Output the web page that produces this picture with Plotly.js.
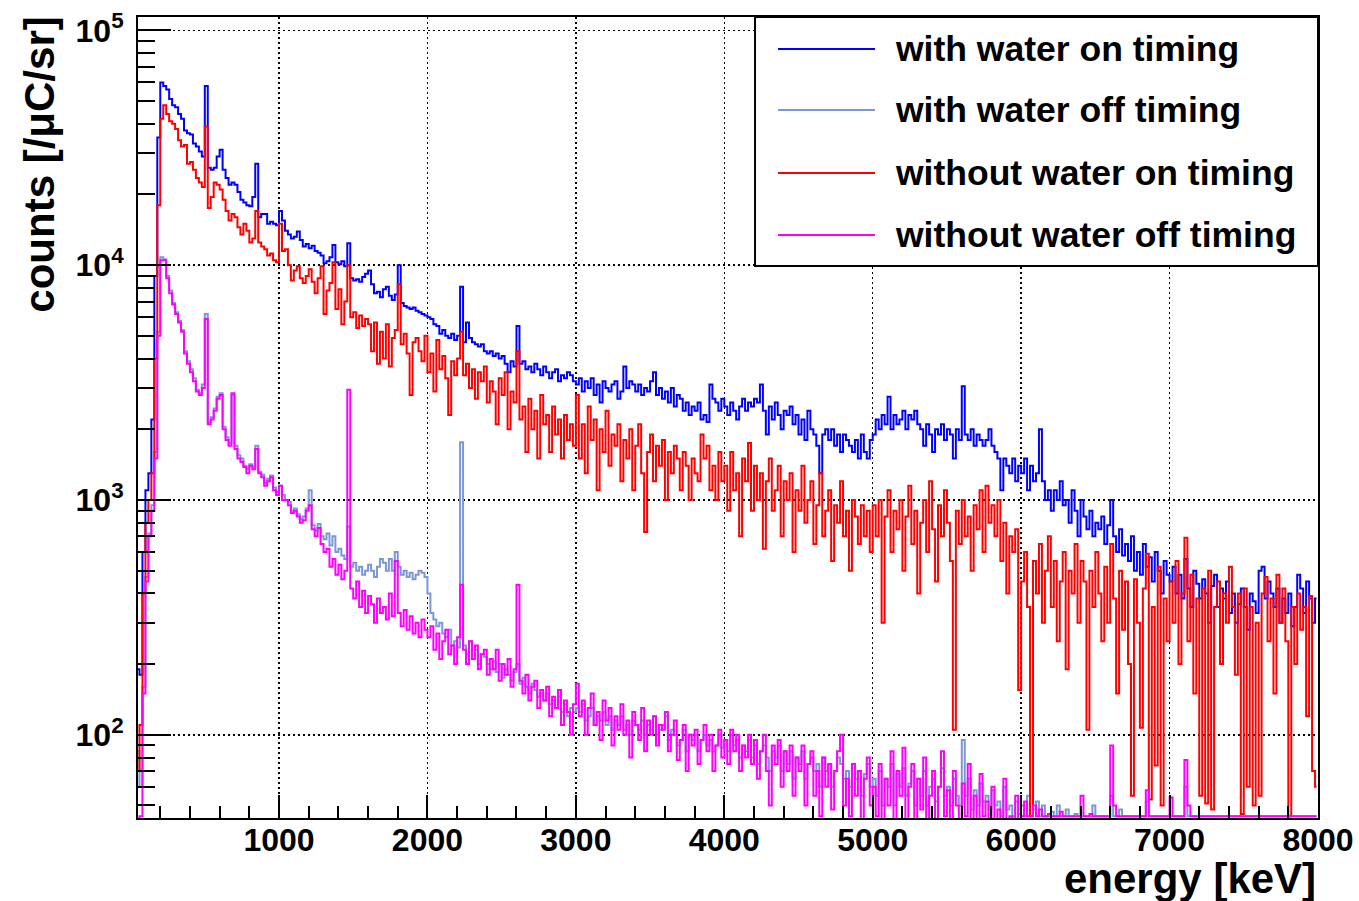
<!DOCTYPE html>
<html>
<head>
<meta charset="utf-8">
<script src="https://cdn.plot.ly/plotly-3.0.1.min.js"></script>
<style>
  html, body { margin: 0; padding: 0; background: #ffffff; }
  #chart { width: 1359px; height: 901px; }
</style>
</head>
<body>
<div id="chart"></div>
<script>
// Energy histograms: 20 keV bins starting at 40 keV (centres 50 ... 7990 keV).
const binLow = 40;
const binWidth = 20;

// counts per bin [/uC/sr], one row per 1000 keV (first row: 40-1000 keV)
const withWaterOn = [
  190,180,600,1100,1300,2200,9000,35000,60000,58000,56000,51000,48000,47000,44000,42000,37500,36500,36000,33000,32000,30500,29000,58000,26000,25500,26000,29000,31000,25500,23500,22000,22500,22000,20500,19000,18500,18000,17800,19500,27000,16000,16500,16500,15000,15300,15000,14800,
  17000,15500,14000,13500,13000,13200,13900,12800,12000,12300,11800,12100,11500,11300,11000,10200,10400,10800,12200,10300,10100,10400,9900,12400,8800,8600,8700,8500,8900,9200,9500,8300,7600,7700,7300,7900,8100,7400,7100,7500,10000,6900,6700,6600,6500,6600,6400,6300,6200,6100,
  6000,5900,5600,5500,5100,5300,5000,4900,5100,4800,5000,8100,4700,5700,4900,4700,4600,4500,4600,4300,4200,4300,4100,4200,4000,4100,3800,3500,3900,3700,5500,3800,3900,3600,3700,3500,3800,3600,3400,3700,3500,3300,3500,3600,3200,3400,3300,3500,3400,3200,
  3100,3300,2900,3200,3000,3300,2800,3100,2600,3200,3000,2900,3100,3200,2700,2900,3700,3000,3200,3100,2900,3100,2800,3000,2900,3200,3500,2800,3000,2700,2900,2600,3000,2500,2800,2700,2400,2600,2300,2500,2400,2600,2200,2300,2150,3100,2700,2600,2400,2700,
  2500,2300,2600,2400,2200,2500,2700,2400,2600,2500,2700,2600,3100,2400,1900,2500,2200,2600,2300,2000,2400,2300,2500,2100,2300,1900,2200,1800,2400,2000,1900,1700,1300,1900,2000,1800,2000,1700,1900,1600,1900,1800,1700,1600,1800,1500,1900,1600,1500,1800,
  1900,2200,2000,2300,2100,2750,2000,2300,2100,2200,2400,2000,2300,2200,2400,2100,2000,1700,2100,1900,1600,2000,1900,2100,1800,2000,1900,1500,2000,1800,3050,1900,1800,2000,1700,1900,1800,1700,1800,2000,1700,1600,1500,1100,1500,1400,1300,1500,1200,1400,
  1300,1500,1100,1400,1200,1300,2000,1200,1000,1100,900,1100,1000,1200,950,1000,800,1100,900,700,1000,850,750,900,700,800,750,850,650,780,1000,700,600,750,580,650,550,700,500,600,480,650,520,570,450,600,500,400,550,480,
  450,520,400,480,380,560,420,350,500,440,380,460,400,300,430,480,350,420,380,450,330,400,300,360,420,350,280,400,370,330,500,520,380,450,400,350,420,300,380,330,400,290,350,480,420,330,450,380,300,380
];

const withWaterOff = [
  85,60,160,470,720,950,1600,5200,10800,10600,9000,7800,6900,6300,5800,5300,4300,3900,3600,3300,2950,2850,3100,6200,2150,2250,2450,2750,2850,2050,1850,1750,2800,1700,1550,1500,1400,1350,1420,1380,1700,1320,1280,1180,1230,1270,1130,1080,
  1150,1050,1000,980,900,920,870,830,850,920,1100,780,740,790,700,680,720,640,700,600,620,580,560,770,520,540,500,520,480,500,530,500,470,520,560,540,500,560,500,600,520,480,500,470,490,460,480,500,490,470,
  400,330,310,290,300,270,260,280,240,250,235,1760,240,220,250,210,230,200,220,215,200,190,205,185,200,175,190,180,170,185,200,165,175,160,150,165,155,145,150,140,150,135,140,130,145,125,135,120,130,125,
  130,125,135,115,120,130,110,120,115,125,110,120,105,115,110,120,105,110,100,115,110,105,115,100,110,105,120,100,105,110,120,95,105,100,90,95,105,85,100,95,100,85,95,100,90,95,85,90,100,88,
  95,85,100,90,95,80,90,85,95,80,90,75,85,90,80,70,85,80,90,70,85,75,85,65,80,75,85,65,75,80,70,75,60,80,70,75,60,70,80,75,65,70,60,75,65,70,55,68,75,60,
  65,55,70,50,65,60,75,50,68,60,72,55,62,70,50,65,55,70,50,60,65,52,60,72,55,60,50,65,55,50,95,55,65,48,58,50,62,52,55,48,58,50,52,45,60,48,50,45,52,46,
  50,0,55,0,48,52,0,50,0,0,47,0,50,0,0,48,0,0,46,0,0,0,0,0,50,0,0,0,0,0,55,0,0,48,0,0,0,0,0,0,0,0,52,0,0,0,0,0,0,0,
  0,0,0,0,0,60,0,0,0,0,0,0,0,0,0,0,0,0,0,0,0,0,0,0,0,0,0,0,0,0,0,0,0,0,0,0,0,0,0,0,0,0,0,0,0,0,0,0,0,0
];

const withoutWaterOn = [
  70,110,400,800,1000,1300,4000,18000,42000,48000,44000,41000,40000,38000,34000,32000,32500,27000,27500,25500,23500,22500,21500,39000,17500,19500,22500,22000,21000,19000,17000,15500,16500,16000,14500,13500,15000,14000,12500,13000,17000,12500,12000,11700,11000,11200,10500,10300,
  15000,11500,11700,10000,8600,9500,9900,8800,8400,9000,9600,8500,7600,8800,9900,6200,7800,8400,10300,6500,7900,5600,7000,10000,6000,6300,5400,6100,5500,5900,5600,4300,5700,3800,5200,4000,5600,3700,4900,5300,8300,4600,5100,4200,2800,4700,4900,4300,3900,5000,
  3500,4200,2900,4800,3600,4100,3300,2300,3900,3400,4000,5200,3400,3800,3000,3600,2700,3500,3200,3700,2600,3200,2900,2100,3300,2800,3500,2000,2900,2600,4300,2200,2500,1600,2700,2000,2400,1500,2800,2100,2300,1600,2500,1900,2200,1500,2300,1800,2100,1700,
  2800,1500,2100,1300,2500,1800,2200,1100,2000,1600,2400,1400,1900,1700,2100,1200,1800,1500,2000,1100,1700,2100,1300,730,1600,1900,1200,1700,1400,1800,1000,1600,1300,1700,1500,1100,1600,1400,1000,1500,1300,1200,1900,1500,1700,1100,1400,1000,1600,1200,
  1400,900,1600,1100,1300,700,1500,1200,1750,900,1400,1000,1300,620,1200,1500,900,1100,1400,700,1200,1000,1300,600,1100,900,1400,800,1000,1200,650,950,1300,700,900,1100,550,950,800,1200,700,900,500,1000,850,650,950,700,900,600,
  950,700,1000,300,850,1100,600,900,750,1000,500,850,1150,650,900,400,800,1000,600,1200,750,450,950,700,1100,800,550,105,900,650,1000,700,850,500,950,750,1100,600,1150,800,950,700,1000,550,800,400,700,600,750,155,
  450,600,350,0,550,400,650,300,500,700,350,550,250,450,600,190,500,400,650,300,550,450,105,500,350,600,400,250,520,300,650,380,150,500,280,450,200,55,460,300,107,420,590,53,350,74,520,50,380,250,
  450,300,550,200,400,690,250,480,150,380,55,420,51,500,48,350,450,200,400,300,520,350,180,400,46,420,60,350,50,300,55,400,470,250,380,150,480,300,420,250,0,350,200,400,280,350,120,390,70,60
];

const withoutWaterOff = [
  40,45,150,450,700,900,1500,5000,10500,10500,8800,7600,6800,6200,5700,5200,4200,3800,3500,3200,2900,2800,3000,5900,2100,2200,2400,2700,2800,2000,1800,1700,2850,1650,1500,1450,1380,1300,1400,1350,1650,1300,1250,1150,1200,1250,1100,1050,
  1150,1000,1000,950,880,900,850,800,820,900,950,750,700,760,650,600,620,520,560,480,530,460,500,2950,420,380,450,350,410,330,390,360,300,380,330,350,310,400,320,550,330,290,340,280,320,270,300,260,310,280,
  260,290,230,270,210,250,280,220,240,200,260,435,230,200,250,210,240,190,220,230,180,210,190,230,170,200,180,210,160,190,435,170,150,180,140,160,170,130,155,140,160,120,145,130,155,110,140,125,100,135,
  165,120,140,100,130,150,110,125,95,140,115,130,90,120,105,135,100,115,80,125,110,95,130,85,115,100,120,90,110,105,125,85,100,115,78,95,110,70,100,90,105,75,95,110,85,100,70,90,105,80,
  95,75,105,85,100,70,90,80,100,75,95,65,85,100,70,50,90,75,95,60,85,70,90,55,80,70,90,50,75,85,55,70,45,80,60,75,48,70,85,100,50,65,45,75,55,70,40,65,80,50,
  60,45,75,40,65,50,85,40,70,55,88,42,60,75,40,65,48,80,40,55,70,42,60,85,45,58,40,70,50,40,62,45,75,40,55,40,68,45,52,40,60,40,48,40,65,40,45,40,55,40,
  0,52,0,0,50,0,48,0,0,46,0,0,0,47,0,0,0,0,0,0,55,0,0,46,0,0,0,0,45,0,90,50,0,0,0,0,0,0,0,0,0,0,58,0,0,0,0,0,0,0,
  54,0,0,0,0,78,50,0,0,0,0,0,0,0,0,0,0,0,0,0,0,0,0,0,0,0,0,0,0,0,0,0,0,0,0,0,0,0,0,0,0,0,0,0,0,0,0,0,0,0
];

const seriesNames = [
  'with water on timing',
  'with water off timing',
  'without water on timing',
  'without water off timing'
];

const xTickVals = [1000, 2000, 3000, 4000, 5000, 6000, 7000, 8000];
const xTickLabels = ['1000', '2000', '3000', '4000', '5000', '6000', '7000', '8000'];
const yTickVals = [100, 1000, 10000, 100000];
const yTickLabels = ['10<sup>2</sup>', '10<sup>3</sup>', '10<sup>4</sup>', '10<sup>5</sup>'];

const xTitle = 'energy [keV]';
const yTitle = 'counts [/\u03bcC/sr]';

// ---------------------------------------------------------------------------
const Y_MIN = 44.2;
const Y_MAX = 1.14e5;
const Y_FLOOR = 45.0;   // empty bins sit on the lower frame, like a ROOT histogram
const FONT = 'Liberation Sans, Arial, Helvetica, sans-serif';

const centres = withWaterOn.map((_, i) => binLow + binWidth * (i + 0.5));
const onLogScale = arr => arr.map(v => (v > 0 ? v : Y_FLOOR));

const colours = ['#0000ff', '#7b97d6', '#ff0000', '#ff00ff'];
const series = [withWaterOn, withWaterOff, withoutWaterOn, withoutWaterOff];

const traces = series.map((vals, k) => ({
  type: 'scatter',
  mode: 'lines',
  name: seriesNames[k],
  x: centres,
  y: onLogScale(vals),
  line: { color: colours[k], width: 2, shape: 'hvh' },
  hoverinfo: 'skip'
}));

// minor ticks 2..9 in every decade
const yMinor = [];
for (let e = 1; e <= 5; e++) {
  for (let m = 2; m <= 9; m++) {
    const v = m * Math.pow(10, e);
    if (v > Y_MIN && v < Y_MAX) yMinor.push(v);
  }
}

// legend box drawn in paper coordinates
const L = { x0: 0.5229, x1: 1.0, y0: 0.6891, y1: 1.0, lineX0: 0.5424, lineX1: 0.6246, textX: 0.6398,
            rows: [0.9600, 0.8839, 0.8052, 0.7278] };

const shapes = [{
  type: 'rect', xref: 'paper', yref: 'paper', layer: 'above',
  x0: L.x0, x1: L.x1, y0: L.y0, y1: L.y1,
  fillcolor: '#ffffff', line: { color: '#000000', width: 2 }
}];
const annotations = [];
seriesNames.forEach((name, k) => {
  shapes.push({
    type: 'line', xref: 'paper', yref: 'paper', layer: 'above',
    x0: L.lineX0, x1: L.lineX1, y0: L.rows[k], y1: L.rows[k],
    line: { color: colours[k], width: 2 }
  });
  annotations.push({
    xref: 'paper', yref: 'paper', x: L.textX, y: L.rows[k],
    xanchor: 'left', yanchor: 'middle', showarrow: false,
    text: '<b>' + name + '</b>',
    font: { family: FONT, size: 35.5, color: '#000000' }
  });
});

annotations.push({
  xref: 'paper', yref: 'paper', x: 1.0, y: -0.075,
  xanchor: 'right', yanchor: 'middle', showarrow: false,
  text: '<b>' + xTitle + '</b>',
  font: { family: FONT, size: 42, color: '#000000' }
});
annotations.push({
  xref: 'paper', yref: 'paper', x: -0.083, y: 1.003,
  xanchor: 'center', yanchor: 'top', showarrow: false, textangle: -90,
  text: '<b>' + yTitle + '</b>',
  font: { family: FONT, size: 42, color: '#000000' }
});

const tickFont = { family: FONT, size: 32, color: '#000000', weight: 'bold' };

const layout = {
  width: 1359,
  height: 901,
  margin: { l: 138, r: 41, t: 17, b: 83, pad: 0 },
  paper_bgcolor: '#ffffff',
  plot_bgcolor: '#ffffff',
  showlegend: false,
  xaxis: {
    type: 'linear',
    range: [50, 8000],
    tickmode: 'array',
    tickvals: xTickVals,
    ticktext: xTickLabels,
    ticks: 'inside', ticklen: 23, tickwidth: 2, tickcolor: '#000000',
    ticklabelstandoff: -7,
    showline: true, linewidth: 2, linecolor: '#000000', mirror: true,
    showgrid: true, gridcolor: '#000000', gridwidth: 1.5, griddash: '2px,3px',
    zeroline: false,
    tickfont: tickFont,
    minor: { tickmode: 'linear', tick0: 0, dtick: 200, ticks: 'inside', ticklen: 12,
             tickwidth: 2, tickcolor: '#000000', showgrid: false }
  },
  yaxis: {
    type: 'log',
    range: [Math.log10(Y_MIN), Math.log10(Y_MAX)],
    tickmode: 'array',
    tickvals: yTickVals,
    ticktext: yTickLabels,
    ticks: 'inside', ticklen: 33, tickwidth: 2, tickcolor: '#000000',
    ticklabelstandoff: 6,
    showline: true, linewidth: 2, linecolor: '#000000', mirror: true,
    showgrid: true, gridcolor: '#000000', gridwidth: 1.5, griddash: '2px,3px',
    zeroline: false,
    tickfont: tickFont,
    minor: { tickmode: 'array', tickvals: yMinor, ticks: 'inside', ticklen: 17,
             tickwidth: 2, tickcolor: '#000000', showgrid: false }
  },
  shapes: shapes,
  annotations: annotations
};

Plotly.newPlot('chart', traces, layout, { displayModeBar: false, staticPlot: true });
</script>
</body>
</html>
